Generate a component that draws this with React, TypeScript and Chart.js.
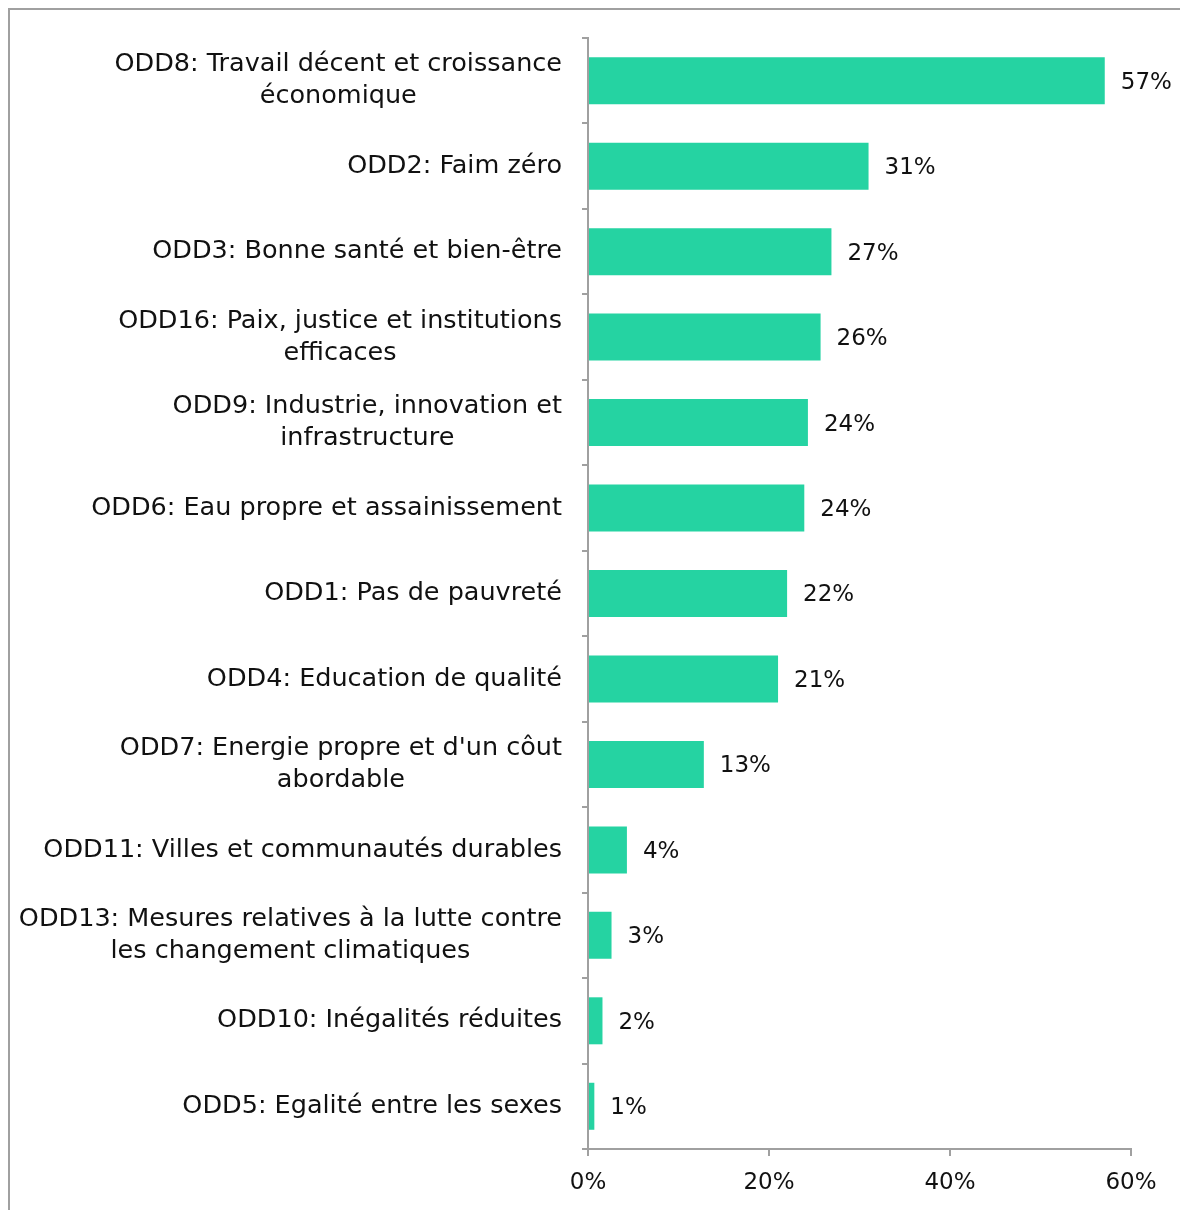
import React, { useEffect, useRef } from 'react';
import { Chart, registerables } from 'chart.js';

Chart.register(...registerables);

const categories: string[][] = [
  ['ODD8: Travail décent et croissance', 'économique'],
  ['ODD2: Faim zéro'],
  ['ODD3: Bonne santé et bien-être'],
  ['ODD16: Paix, justice et institutions', 'efficaces'],
  ['ODD9: Industrie, innovation et', 'infrastructure'],
  ['ODD6: Eau propre et assainissement'],
  ['ODD1: Pas de pauvreté'],
  ['ODD4: Education de qualité'],
  ["ODD7: Energie propre et d'un côut", 'abordable'],
  ['ODD11: Villes et communautés durables'],
  ['ODD13: Mesures relatives à la lutte contre', 'les changement climatiques'],
  ['ODD10: Inégalités réduites'],
  ['ODD5: Egalité entre les sexes'],
];

const values: number[] = [57.1, 31.0, 26.9, 25.7, 24.3, 23.9, 22.0, 21.0, 12.8, 4.3, 2.6, 1.6, 0.7];

const xTickValues: number[] = [0, 20, 40, 60];

const FONT = '"DejaVu Sans", sans-serif';
const TEXT = '#111111';
const AXIS = '#a0a0a0';
const BAR = '#25D3A2';

const W = 1170;
const H = 1200;

export default function App() {
  const ref = useRef<HTMLCanvasElement | null>(null);

  useEffect(() => {
    if (!ref.current) return;

    const labelPlugin = {
      id: 'customLabels',
      afterDraw(chart: any) {
        const ctx = chart.ctx;
        const yScale = chart.scales.y;
        const area = chart.chartArea;
        ctx.save();
        ctx.fillStyle = TEXT;
        ctx.font = `25.5px ${FONT}`;
        ctx.textBaseline = 'middle';
        const lineH = 32;
        categories.forEach((lines, i) => {
          const y = yScale.getPixelForValue(i);
          const blockW = Math.max(...lines.map((l) => ctx.measureText(l).width));
          const cx = area.left - 26 - blockW / 2;
          ctx.textAlign = 'center';
          lines.forEach((l, j) => {
            ctx.fillText(l, cx, y + (j - (lines.length - 1) / 2) * lineH);
          });
        });
        const meta = chart.getDatasetMeta(0);
        ctx.font = `23px ${FONT}`;
        ctx.textAlign = 'left';
        meta.data.forEach((el: any, i: number) => {
          ctx.fillText(`${Math.round(values[i])}%`, el.x + 16, el.y + 2);
        });
        ctx.restore();
      },
    };

    const chart = new Chart(ref.current, {
      type: 'bar',
      data: {
        labels: categories.map((c) => c.join(' ')),
        datasets: [
          {
            data: values,
            backgroundColor: BAR,
            borderWidth: 0,
            barPercentage: 0.55,
            categoryPercentage: 1,
          },
        ],
      },
      options: {
        indexAxis: 'y',
        responsive: false,
        animation: false,
        devicePixelRatio: 1,
        layout: { padding: { top: 28, right: 49, left: 0, bottom: 0 } },
        plugins: {
          legend: { display: false },
          tooltip: { enabled: false },
        },
        scales: {
          x: {
            type: 'linear',
            position: 'bottom',
            min: 0,
            max: 60,
            afterBuildTicks: (scale: any) => {
              scale.ticks = xTickValues.map((v) => ({ value: v }));
            },
            ticks: {
              callback: (v: any) => `${v}%`,
              font: { family: FONT, size: 23 },
              color: TEXT,
              padding: 13,
            },
            grid: {
              drawOnChartArea: false,
              drawTicks: true,
              tickLength: 7,
              color: AXIS,
              lineWidth: 2,
            },
            border: { color: AXIS, width: 2 },
            afterFit: (scale: any) => {
              scale.height = H - 1139;
            },
          },
          y: {
            type: 'category',
            ticks: { display: false },
            grid: {
              drawOnChartArea: false,
              drawTicks: true,
              tickLength: 6,
              color: AXIS,
              lineWidth: 2,
              offset: true,
            },
            border: { color: AXIS, width: 2 },
            afterFit: (scale: any) => {
              scale.width = 578;
            },
          },
        },
      },
      plugins: [labelPlugin],
    } as any);

    return () => chart.destroy();
  }, []);

  return (
    <div
      style={{
        position: 'fixed',
        top: 8,
        left: 8,
        width: W,
        height: H,
        borderTop: `2px solid ${AXIS}`,
        borderLeft: `2px solid ${AXIS}`,
        background: '#fff',
      }}
    >
      <canvas ref={ref} width={W} height={H} style={{ display: 'block', width: W, height: H }} />
    </div>
  );
}
